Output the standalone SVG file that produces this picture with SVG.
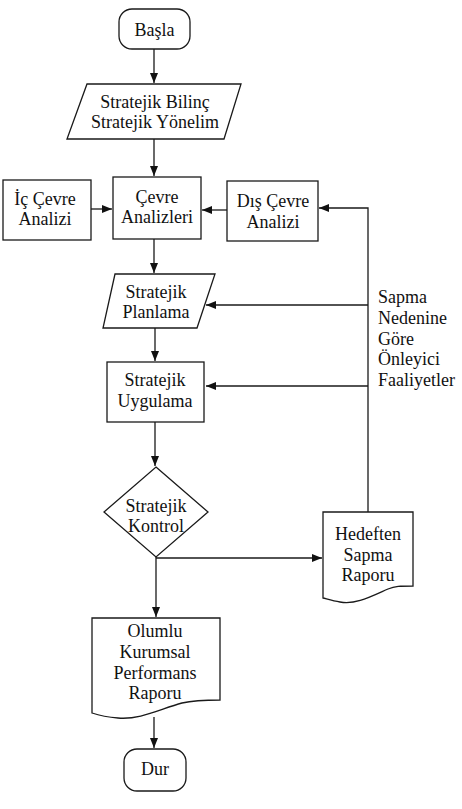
<svg xmlns="http://www.w3.org/2000/svg" width="462" height="809" viewBox="0 0 462 809">
<style>
.s{fill:#fff;stroke:#1a1a1a;stroke-width:1.3}
.t{font-size:18px;fill:#111;text-anchor:middle}
.l{font-size:18px;fill:#111}
.c{fill:none;stroke:#1a1a1a;stroke-width:1.3}
</style>
<defs>
<marker id="a" viewBox="0 0 10 8" refX="10" refY="4" markerWidth="10" markerHeight="8" markerUnits="userSpaceOnUse" orient="auto">
<path d="M0,0 L10,4 L0,8 Z" fill="#111"/>
</marker>
</defs>
<rect width="462" height="809" fill="#fff"/>
<g id="connectors">
<path class="c" d="M154,49 V83" marker-end="url(#a)"/>
<path class="c" d="M154,139 V176" marker-end="url(#a)"/>
<path class="c" d="M91,209 H112" marker-end="url(#a)"/>
<path class="c" d="M227,210 H202" marker-end="url(#a)"/>
<path class="c" d="M154,239 V273" marker-end="url(#a)"/>
<path class="c" d="M155,328 V361" marker-end="url(#a)"/>
<path class="c" d="M155,422 V466" marker-end="url(#a)"/>
<path class="c" d="M156,557 V617" marker-end="url(#a)"/>
<path class="c" d="M156,558 H322" marker-end="url(#a)"/>
<path class="c" d="M154,717 V748" marker-end="url(#a)"/>
<path class="c" d="M368,512 V208 H319" marker-end="url(#a)"/>
<path class="c" d="M368,305 H206" marker-end="url(#a)"/>
<path class="c" d="M368,386 H206" marker-end="url(#a)"/>
</g>
<g font-family="Liberation Serif, Times New Roman, serif">
<g id="basla">
<rect class="s" x="119" y="9" width="71" height="40" rx="13"/>
<text class="t" x="154.5" y="36">Başla</text>
</g>
<g id="bilinc">
<path class="s" d="M87,84 H241 L224,139 H67 Z"/>
<text class="t" x="155" y="108">Stratejik Bilinç</text>
<text class="t" x="155" y="128">Stratejik Yönelim</text>
</g>
<g id="ic">
<rect class="s" x="3" y="180" width="88" height="60"/>
<text class="t" x="45" y="205">İç Çevre</text>
<text class="t" x="45" y="225">Analizi</text>
</g>
<g id="cevre">
<rect class="s" x="113" y="177" width="88" height="62"/>
<text class="t" x="157" y="203">Çevre</text>
<text class="t" x="157" y="223">Analizleri</text>
</g>
<g id="dis">
<rect class="s" x="227" y="181" width="91" height="60"/>
<text class="t" x="273" y="207">Dış Çevre</text>
<text class="t" x="273" y="228">Analizi</text>
</g>
<g id="planlama">
<path class="s" d="M115,274 H215 L197,328 H103 Z"/>
<text class="t" x="156" y="298">Stratejik</text>
<text class="t" x="156" y="318">Planlama</text>
</g>
<g id="uygulama">
<rect class="s" x="107" y="362" width="97" height="60"/>
<text class="t" x="155" y="386">Stratejik</text>
<text class="t" x="155" y="407">Uygulama</text>
</g>
<g id="kontrol">
<path class="s" d="M156,467 L208,512 L156,557 L104,512 Z"/>
<text class="t" x="156" y="512">Stratejik</text>
<text class="t" x="156" y="532">Kontrol</text>
</g>
<g id="hedeften">
<path class="s" d="M323,512 H413 V586 C400,586 395,586 388,589 C370,597 355,605 340,602 C333,601 327,599 323,598 Z"/>
<text class="t" x="368" y="540">Hedeften</text>
<text class="t" x="368" y="561">Sapma</text>
<text class="t" x="368" y="581">Raporu</text>
</g>
<g id="olumlu">
<path class="s" d="M92,618 H220 V700 C205,700 195,700 182,703 C160,709 140,720 118,718 C105,717 98,715 92,713 Z"/>
<text class="t" x="155" y="637">Olumlu</text>
<text class="t" x="155" y="658">Kurumsal</text>
<text class="t" x="155" y="679">Performans</text>
<text class="t" x="155" y="699">Raporu</text>
</g>
<g id="dur">
<rect class="s" x="124" y="749" width="62" height="42" rx="13"/>
<text class="t" x="155" y="775">Dur</text>
</g>
<g id="label">
<text class="l" x="378" y="303">Sapma</text>
<text class="l" x="378" y="324">Nedenine</text>
<text class="l" x="378" y="345">Göre</text>
<text class="l" x="378" y="365">Önleyici</text>
<text class="l" x="378" y="386">Faaliyetler</text>
</g>
</g>
</svg>
